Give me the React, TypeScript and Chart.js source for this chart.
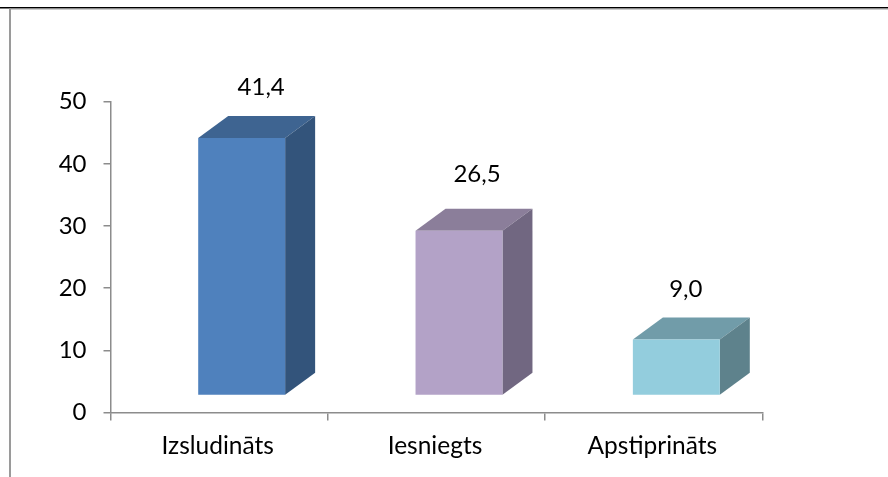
import React, { useEffect, useRef } from "react";
import { Chart, registerables } from "chart.js";

Chart.register(...registerables);

const categories = ["Izsludināts", "Iesniegts", "Apstiprināts"];
const values = [41.4, 26.5, 9.0];
const valueLabels = ["41,4", "26,5", "9,0"];
const frontColors = ["#4F81BD", "#B3A2C7", "#93CDDD"];
const topColors = ["#3E6491", "#8B7E9A", "#719CA9"];
const sideColors = ["#33547B", "#716781", "#5E828C"];
const yTicks = [0, 10, 20, 30, 40, 50];

const FONT = "Lato, Carlito, sans-serif";
const FONT_SIZE = 24;
const SHIFT_X = 22.5;
const SHIFT_Y = -17;
const DEPTH_X = 30;
const DEPTH_Y = -22;
const labelOffsets = [
  [19.5, -29],
  [18, -35],
  [9.5, -28],
];

const box3d = {
  id: "box3d",
  beforeDraw(chart: any) {
    const { ctx } = chart;
    ctx.save();
    ctx.fillStyle = "#ffffff";
    ctx.fillRect(0, 0, chart.width, chart.height);
    ctx.fillStyle = "#000000";
    ctx.fillRect(0, 7, chart.width, 1.5);
    ctx.fillStyle = "#9a9a9a";
    ctx.fillRect(10, 8.5, chart.width - 10, 1);
    ctx.fillRect(9, 8.5, 2, chart.height);
    ctx.restore();
  },
  beforeDatasetDraw(chart: any) {
    const { ctx } = chart;
    ctx.save();
    ctx.translate(SHIFT_X, SHIFT_Y);
    chart.getDatasetMeta(0).data.forEach((bar: any, i: number) => {
      const l = bar.x - bar.width / 2;
      const r = bar.x + bar.width / 2;
      const t = bar.y;
      const b = bar.base;
      ctx.fillStyle = topColors[i];
      ctx.beginPath();
      ctx.moveTo(l, t);
      ctx.lineTo(l + DEPTH_X, t + DEPTH_Y);
      ctx.lineTo(r + DEPTH_X, t + DEPTH_Y);
      ctx.lineTo(r, t);
      ctx.closePath();
      ctx.fill();
      ctx.fillStyle = sideColors[i];
      ctx.beginPath();
      ctx.moveTo(r, t);
      ctx.lineTo(r + DEPTH_X, t + DEPTH_Y);
      ctx.lineTo(r + DEPTH_X, b + DEPTH_Y);
      ctx.lineTo(r, b);
      ctx.closePath();
      ctx.fill();
    });
  },
  afterDatasetDraw(chart: any) {
    chart.ctx.restore();
  },
  afterDatasetsDraw(chart: any) {
    const { ctx } = chart;
    ctx.save();
    ctx.fillStyle = "#000000";
    ctx.font = `${FONT_SIZE}px ${FONT}`;
    ctx.textAlign = "center";
    ctx.textBaseline = "middle";
    chart.getDatasetMeta(0).data.forEach((bar: any, i: number) => {
      ctx.fillText(
        valueLabels[i],
        bar.x + SHIFT_X + labelOffsets[i][0],
        bar.y + SHIFT_Y + DEPTH_Y + labelOffsets[i][1]
      );
    });
    ctx.restore();
  },
};

export default function App() {
  const ref = useRef<HTMLCanvasElement>(null);
  useEffect(() => {
    const chart = new Chart(ref.current as HTMLCanvasElement, {
      type: "bar",
      data: {
        labels: categories,
        datasets: [
          {
            data: values,
            backgroundColor: frontColors,
            borderWidth: 0,
            barPercentage: 0.4,
            categoryPercentage: 1,
          },
        ],
      },
      plugins: [box3d],
      options: {
        responsive: false,
        animation: false,
        layout: { padding: { left: 0, top: 101.6, right: 125.5, bottom: 0 } },
        plugins: { legend: { display: false }, tooltip: { enabled: false } },
        scales: {
          x: {
            afterFit: (s: any) => {
              s.height = 64.4;
            },
            border: { color: "#8c8c8c", width: 1.5 },
            grid: { color: "#8c8c8c", drawOnChartArea: false, tickLength: 8, lineWidth: 1.5 },
            ticks: {
              color: "#000000",
              font: { family: FONT, size: 24.5 },
              padding: 11,
              maxRotation: 0,
              labelOffset: -1.5,
            },
          },
          y: {
            min: 0,
            max: 50,
            afterFit: (s: any) => {
              s.width = 110.5;
            },
            afterBuildTicks: (s: any) => {
              s.ticks = yTicks.map((value) => ({ value }));
            },
            border: { color: "#8c8c8c", width: 1.5 },
            grid: { color: "#8c8c8c", drawOnChartArea: false, tickLength: 7, lineWidth: 1.5 },
            ticks: { color: "#000000", font: { family: FONT, size: FONT_SIZE }, padding: 17 },
          },
        },
      } as any,
    });
    return () => chart.destroy();
  }, []);
  return (
    <canvas
      ref={ref}
      width={888}
      height={477}
      style={{ position: "fixed", left: 0, top: 0, display: "block" }}
    />
  );
}
